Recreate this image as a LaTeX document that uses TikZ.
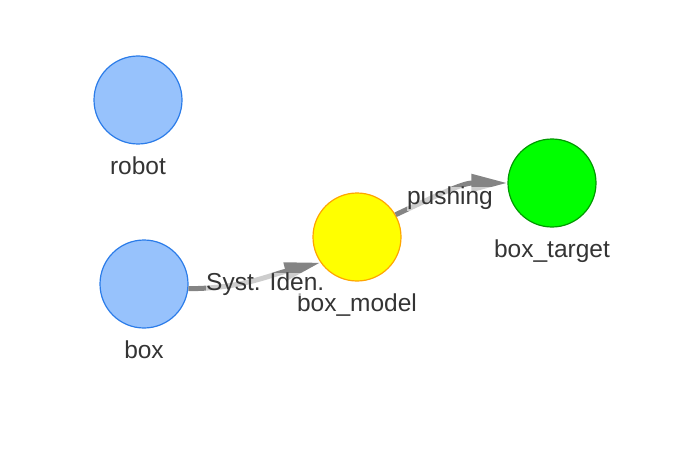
\documentclass[tikz,border=0pt]{standalone}
\usepackage{fontspec}
\setmainfont{Liberation Sans}
\usetikzlibrary{arrows.meta,positioning}
\definecolor{ink}{HTML}{343434}
\definecolor{plainfill}{HTML}{97C2FC}
\definecolor{plainline}{HTML}{2B7CE9}
\definecolor{modelfill}{HTML}{FFFF00}
\definecolor{modelline}{HTML}{FFA500}
\definecolor{targetfill}{HTML}{00FF00}
\definecolor{targetline}{HTML}{009900}
\definecolor{edgegray}{HTML}{848484}
\tikzset{
  >={Triangle[length=36pt,width=17pt]},
  every node/.style={font=\fontsize{24.5}{28}\selectfont,text=ink},
  ball/.style={circle,draw=plainline,line width=1.2pt,fill=plainfill,minimum size=88pt,inner sep=0pt},
  modelball/.style={ball,draw=modelline,fill=modelfill},
  targetball/.style={ball,draw=targetline,fill=targetfill},
  namelab/.style={inner sep=0pt},
  link/.style={->,line width=5pt,draw=edgegray},
  elabel/.style={inner sep=0.5pt,fill=white,fill opacity=0.6,text opacity=1},
}

\begin{document}
\begin{tikzpicture}[x=1pt,y=1pt]
\useasboundingbox (0,0) rectangle (695,-449);

% nodes
\node[ball] (robot) at (138,-100) {};
\node[ball] (box) at (144,-284) {};
\node[modelball] (boxmodel) at (357,-237) {};
\node[targetball] (boxtarget) at (552,-183) {};

% names under the nodes
\node[namelab,below=12pt of robot] (robotlab) {robot};
\node[namelab,below=12pt of box] (boxlab) {box};
\node[namelab,below=12pt of boxmodel] (boxmodellab) {box\_model};
\node[namelab,below=12pt of boxtarget] (boxtargetlab) {box\_target};

% edges
\draw[link] (box.-6) to[out=0,in=194] node[elabel,pos=0.56,xshift=3pt,yshift=-6pt] (sysid) {Syst. Iden.} (boxmodel.215);
\draw[link] (boxmodel.30) to[out=25,in=180] node[elabel,pos=0.5,yshift=-7pt] (push) {pushing} (boxtarget);

\end{tikzpicture}
\end{document}
